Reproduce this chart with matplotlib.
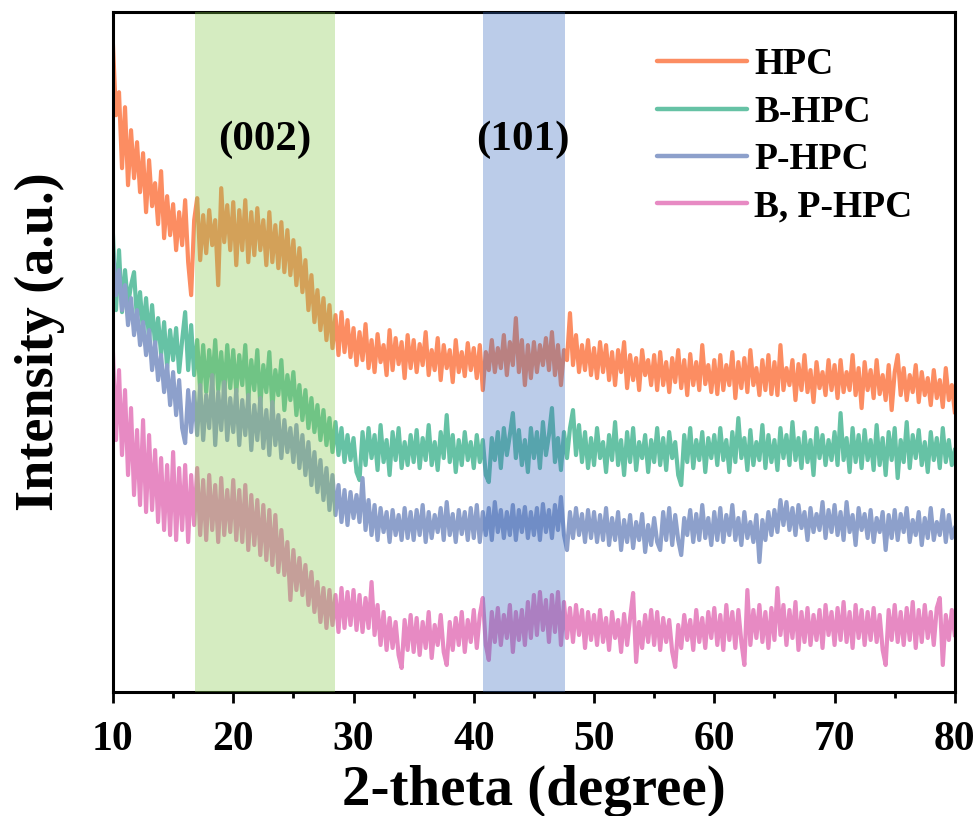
import numpy as np
import matplotlib
matplotlib.use("Agg")
import matplotlib.pyplot as plt
from matplotlib.ticker import MultipleLocator

# 2-theta scan grid (0.25 degree steps, 10-80)
two_theta = np.linspace(10, 80, 281)

# stacked XRD patterns (offset intensities, a.u.)
hpc = [
    645, 575, 598, 522, 583, 505, 560, 512, 548, 498, 537, 478, 530, 484, 507, 466, 519, 452, 494, 455,
    486, 440, 478, 445, 490, 428, 395, 470, 492, 430, 475, 437, 480, 445, 470, 405, 502, 448, 485, 440,
    488, 425, 480, 440, 490, 428, 478, 435, 482, 440, 470, 425, 478, 428, 465, 422, 468, 418, 460, 415,
    450, 405, 442, 398, 430, 380, 415, 368, 400, 360, 392, 350, 385, 342, 375, 335, 378, 338, 370, 333,
    362, 325, 358, 330, 366, 322, 350, 318, 356, 328, 345, 315, 360, 320, 352, 326, 348, 312, 355, 322,
    350, 318, 346, 325, 358, 315, 340, 320, 352, 310, 345, 322, 340, 308, 350, 318, 338, 314, 347, 320,
    342, 312, 345, 300, 338, 320, 350, 318, 342, 322, 355, 315, 348, 325, 372, 318, 350, 305, 345, 312,
    348, 318, 345, 325, 352, 320, 358, 315, 345, 305, 340, 330, 377, 325, 355, 318, 345, 320, 350, 315,
    342, 312, 348, 318, 345, 310, 338, 305, 340, 318, 348, 302, 335, 310, 332, 300, 340, 315, 330, 305,
    335, 300, 338, 305, 328, 298, 332, 308, 340, 302, 330, 295, 336, 305, 328, 300, 345, 306, 325, 298,
    330, 296, 335, 300, 325, 305, 338, 292, 328, 302, 332, 298, 340, 305, 322, 295, 330, 300, 335, 296,
    328, 295, 345, 300, 322, 305, 330, 290, 326, 300, 335, 298, 320, 288, 328, 302, 318, 295, 330, 300,
    325, 292, 330, 298, 318, 300, 335, 295, 322, 282, 328, 300, 320, 292, 330, 296, 315, 290, 325, 280,
    318, 335, 295, 322, 290, 315, 298, 325, 288, 318, 295, 312, 285, 320, 292, 310, 283, 322, 290, 305,
    278,
]
b_hpc = [
    455, 380, 440, 378, 420, 385, 405, 418, 370, 398, 358, 392, 350, 385, 345, 372, 335, 368, 322, 360,
    330, 362, 318, 350, 378, 320, 365, 315, 350, 300, 345, 298, 340, 305, 350, 300, 338, 295, 345, 302,
    340, 298, 335, 305, 345, 290, 330, 300, 340, 285, 325, 298, 338, 282, 320, 295, 330, 280, 315, 290,
    318, 275, 305, 270, 300, 262, 292, 258, 285, 250, 280, 245, 272, 238, 268, 235, 262, 228, 255, 230,
    252, 218, 210, 258, 225, 262, 232, 255, 220, 265, 228, 250, 215, 258, 230, 262, 222, 248, 225, 255,
    228, 260, 222, 252, 230, 265, 225, 248, 220, 258, 232, 275, 228, 255, 218, 250, 225, 258, 230, 248,
    222, 255, 228, 250, 215, 208, 252, 230, 258, 222, 262, 235, 255, 277, 232, 260, 225, 250, 218, 262,
    232, 258, 222, 268, 235, 255, 282, 228, 252, 220, 258, 232, 262, 280, 235, 265, 228, 258, 222, 252,
    225, 262, 232, 248, 218, 255, 230, 268, 225, 250, 215, 258, 228, 262, 220, 248, 232, 255, 218, 250,
    228, 262, 225, 252, 220, 258, 232, 248, 215, 205, 255, 228, 262, 222, 250, 230, 258, 218, 252, 232,
    255, 225, 262, 230, 250, 218, 258, 228, 272, 232, 252, 220, 260, 225, 248, 230, 265, 222, 255, 228,
    250, 220, 262, 232, 255, 225, 268, 230, 252, 222, 258, 228, 250, 215, 262, 232, 255, 225, 250, 230,
    258, 225, 277, 230, 252, 218, 262, 228, 255, 222, 260, 230, 250, 220, 265, 225, 252, 215, 258, 230,
    262, 212, 250, 228, 268, 222, 255, 232, 260, 225, 248, 218, 258, 230, 252, 222, 262, 228, 250, 225,
    240,
]
p_hpc = [
    438, 395, 420, 380, 405, 365, 392, 355, 380, 345, 368, 335, 360, 320, 348, 310, 335, 298, 325, 285,
    318, 275, 310, 262, 247, 300, 258, 298, 255, 305, 250, 295, 262, 315, 245, 298, 260, 308, 250, 292,
    258, 300, 245, 290, 255, 295, 240, 285, 250, 292, 242, 280, 235, 288, 245, 275, 232, 270, 238, 262,
    228, 265, 222, 255, 215, 248, 205, 238, 198, 230, 190, 222, 180, 215, 175, 205, 168, 200, 165, 198,
    172, 195, 168, 212, 160, 190, 155, 185, 150, 182, 158, 178, 148, 180, 155, 175, 150, 182, 152, 178,
    150, 180, 155, 185, 148, 178, 152, 175, 158, 182, 150, 188, 155, 176, 148, 180, 156, 178, 150, 182,
    152, 185, 148, 178, 155, 182, 150, 188, 158, 180, 152, 178, 155, 185, 150, 180, 158, 183, 152, 178,
    155, 182, 150, 186, 158, 180, 152, 185, 160, 193, 155, 140, 178, 152, 182, 155, 176, 148, 180, 152,
    178, 148, 175, 150, 182, 145, 172, 150, 178, 140, 170, 148, 175, 142, 168, 150, 176, 138, 165, 145,
    172, 148, 140, 178, 150, 182, 145, 175, 150, 135, 172, 155, 180, 148, 176, 150, 185, 152, 172, 145,
    178, 150, 182, 148, 175, 155, 185, 150, 172, 145, 178, 152, 168, 148, 175, 128, 170, 150, 178, 155,
    180, 158, 190, 165, 188, 160, 182, 155, 185, 162, 178, 150, 182, 158, 176, 160, 188, 152, 180, 158,
    185, 155, 178, 150, 188, 158, 175, 145, 182, 160, 176, 152, 180, 148, 172, 158, 178, 140, 175, 152,
    180, 150, 176, 158, 182, 148, 170, 155, 178, 145, 172, 152, 182, 150, 168, 155, 180, 148, 175, 152,
    162,
]
bp_hpc = [
    337, 250, 320, 235, 300, 215, 282, 195, 260, 185, 270, 178, 255, 180, 240, 168, 232, 160, 225, 155,
    238, 150, 222, 160, 225, 148, 215, 165, 222, 155, 210, 150, 215, 160, 205, 148, 212, 155, 200, 158,
    210, 150, 200, 148, 205, 140, 195, 145, 190, 135, 185, 130, 180, 125, 175, 118, 160, 115, 148, 90,
    140, 100, 132, 95, 125, 85, 118, 78, 108, 68, 102, 62, 100, 65, 95, 58, 102, 62, 98, 65,
    100, 60, 95, 58, 92, 62, 108, 55, 85, 45, 78, 40, 72, 42, 68, 35, 22, 70, 40, 75,
    38, 72, 35, 68, 42, 78, 32, 65, 45, 75, 38, 25, 68, 40, 72, 45, 78, 38, 70, 48,
    80, 42, 75, 92, 45, 30, 78, 48, 82, 45, 75, 52, 85, 38, 78, 50, 80, 45, 88, 52,
    95, 55, 98, 60, 90, 48, 95, 58, 98, 45, 88, 52, 82, 48, 85, 55, 80, 42, 78, 50,
    75, 45, 80, 48, 72, 40, 78, 52, 70, 38, 76, 45, 72, 97, 28, 68, 42, 75, 48, 80,
    45, 78, 40, 72, 48, 70, 38, 23, 65, 42, 75, 50, 70, 40, 80, 48, 72, 42, 78, 52,
    82, 45, 75, 40, 85, 50, 78, 42, 80, 48, 25, 100, 45, 80, 52, 85, 48, 78, 42, 82,
    50, 102, 55, 85, 45, 80, 52, 88, 40, 78, 48, 82, 45, 75, 50, 80, 42, 85, 55, 78,
    45, 82, 50, 88, 48, 78, 42, 85, 52, 80, 45, 78, 50, 82, 48, 75, 40, 25, 80, 50,
    85, 48, 78, 45, 82, 50, 88, 42, 80, 48, 85, 52, 78, 45, 82, 92, 25, 75, 50, 80,
    55,
]

labels = ["HPC", "B-HPC", "P-HPC", "B, P-HPC"]
colors = ["#fc8d62", "#66c2a5", "#8da0cb", "#e78ac3"]

# diffraction planes, their 2-theta windows and label positions
planes = ["(002)", "(101)"]
plane_ranges = [(16.8, 28.5), (40.8, 47.6)]
plane_label_x = [22.6, 44.1]
plane_colors = ["#84c94a", "#3a6abf"]

plt.rcParams["font.family"] = ["Liberation Serif", "DejaVu Serif"]
plt.rcParams["font.weight"] = "bold"

fig = plt.figure(figsize=(9.8, 8.16), dpi=100)
ax = fig.add_axes([0.1153, 0.152, 0.859, 0.833])

for y, lab, c in zip([hpc, b_hpc, p_hpc, bp_hpc], labels, colors):
    ax.plot(two_theta, y, color=c, lw=3.0, label=lab, solid_joinstyle="round")

for (lo, hi), c, name, lx in zip(plane_ranges, plane_colors, planes, plane_label_x):
    ax.axvspan(lo, hi, color=c, alpha=0.34, lw=0, zorder=3)
    ax.text(lx, 550, name, ha="center", va="center", fontsize=31, fontweight="bold", zorder=4)

ax.set_xlim(10, 80)
ax.set_ylim(-2, 678)
ax.set_yticks([])
ax.xaxis.set_major_locator(MultipleLocator(10))
ax.xaxis.set_minor_locator(MultipleLocator(5))
ax.tick_params(axis="x", which="major", direction="out", length=8, width=2, pad=13, labelsize=30)
ax.tick_params(axis="x", which="minor", direction="out", length=4.5, width=2)
for sp in ax.spines.values():
    sp.set_linewidth(2.2)

ax.set_xlabel("2-theta (degree)", fontsize=41, fontweight="bold")
ax.set_ylabel("Intensity (a.u.)", fontsize=39, fontweight="bold")
ax.xaxis.set_label_coords(0.5, -0.107)
ax.yaxis.set_label_coords(-0.057, 0.516)

leg = ax.legend(loc="upper left", bbox_to_anchor=(0.6704, 0.942), bbox_transform=fig.transFigure,
                frameon=False, fontsize=27, handlelength=2.4, handletextpad=0.2,
                labelspacing=0.33, borderpad=0, borderaxespad=0)
for h in leg.get_lines():
    h.set_linewidth(3.2)
    h.set_solid_capstyle("round")

fig.savefig("out.png", dpi=100)
